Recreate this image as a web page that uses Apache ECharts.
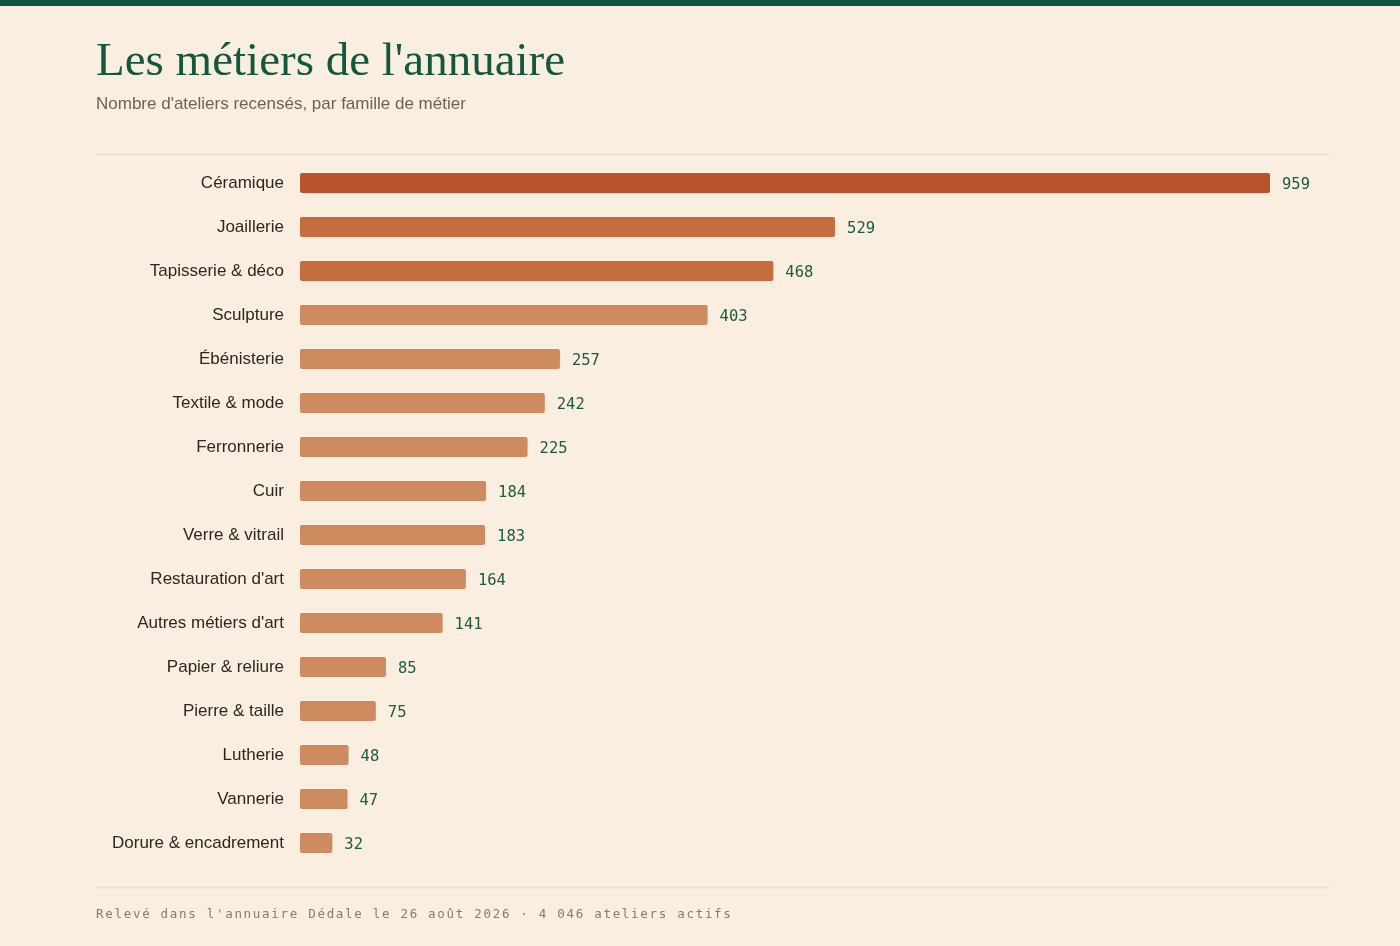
<!DOCTYPE html>
<html>
<head>
<meta charset="utf-8">
<script src="https://cdn.jsdelivr.net/npm/echarts@6/dist/echarts.min.js"></script>
<style>
  html, body { margin: 0; padding: 0; background: #faeee0; }
  #wrap { position: relative; width: 1400px; height: 946px; }
  #chart { position: absolute; left: 0; top: 0; width: 1400px; height: 946px; }
  #footer {
    position: absolute; left: 96px; top: 905px;
    font-family: "DejaVu Sans Mono", monospace; font-size: 12.5px;
    letter-spacing: 1.7px; color: #857b6f; white-space: nowrap; line-height: 18px;
  }
</style>
</head>
<body>
<div id="wrap">
  <div id="chart"></div>
  <div id="footer">Relevé dans l'annuaire Dédale le 26 août 2026 · 4 046 ateliers actifs</div>
</div>
<script>
const categories = ["Céramique", "Joaillerie", "Tapisserie & déco", "Sculpture", "Ébénisterie", "Textile & mode", "Ferronnerie", "Cuir", "Verre & vitrail", "Restauration d'art", "Autres métiers d'art", "Papier & reliure", "Pierre & taille", "Lutherie", "Vannerie", "Dorure & encadrement"];
const counts = [959, 529, 468, 403, 257, 242, 225, 184, 183, 164, 141, 85, 75, 48, 47, 32];
const tiers = [0, 1, 1, 2, 2, 2, 2, 2, 2, 2, 2, 2, 2, 2, 2, 2];
const tierColors = ["#b8532c", "#c46e3f", "#ce8b60"];

const chart = echarts.init(document.getElementById('chart'));
chart.setOption({
  backgroundColor: '#faeee0',
  animation: false,
  title: {
    text: "Les métiers de l'annuaire",
    subtext: "Nombre d'ateliers recensés, par famille de métier",
    left: 91, top: 34,
    itemGap: 10,
    textStyle: { fontFamily: 'Liberation Serif, DejaVu Serif, serif', fontSize: 47, fontWeight: 'normal', color: '#13573f' },
    subtextStyle: { fontFamily: 'Liberation Sans, Arial, sans-serif', fontSize: 17, color: '#6b6259' }
  },
  graphic: [
    { type: 'rect', left: 0, top: 0, shape: { width: 1400, height: 6 }, style: { fill: '#0e5640' } },
    { type: 'line', shape: { x1: 96, y1: 154.5, x2: 1330, y2: 154.5 }, style: { stroke: '#ebe0d0', lineWidth: 1.5 } },
    { type: 'line', shape: { x1: 96, y1: 887.5, x2: 1330, y2: 887.5 }, style: { stroke: '#ebe0d0', lineWidth: 1.5 } }
  ],
  grid: { left: 300, top: 161, width: 970, height: 704, containLabel: false },
  xAxis: {
    type: 'value', min: 0, max: 959,
    show: false
  },
  yAxis: {
    type: 'category', data: categories, inverse: true,
    axisLine: { show: false }, axisTick: { show: false }, splitLine: { show: false },
    axisLabel: { margin: 16, fontSize: 17, color: '#2c2723', fontFamily: 'Liberation Sans, Arial, sans-serif' }
  },
  series: [{
    type: 'bar',
    barWidth: 20,
    data: counts.map((v, i) => ({ value: v, itemStyle: { color: tierColors[tiers[i]] } })),
    itemStyle: { borderRadius: 2 },
    label: {
      show: true, position: 'right', distance: 12, offset: [0, 2],
      fontFamily: 'DejaVu Sans Mono, monospace', fontSize: 15.5, color: '#1d5a43'
    }
  }]
});
</script>
</body>
</html>
